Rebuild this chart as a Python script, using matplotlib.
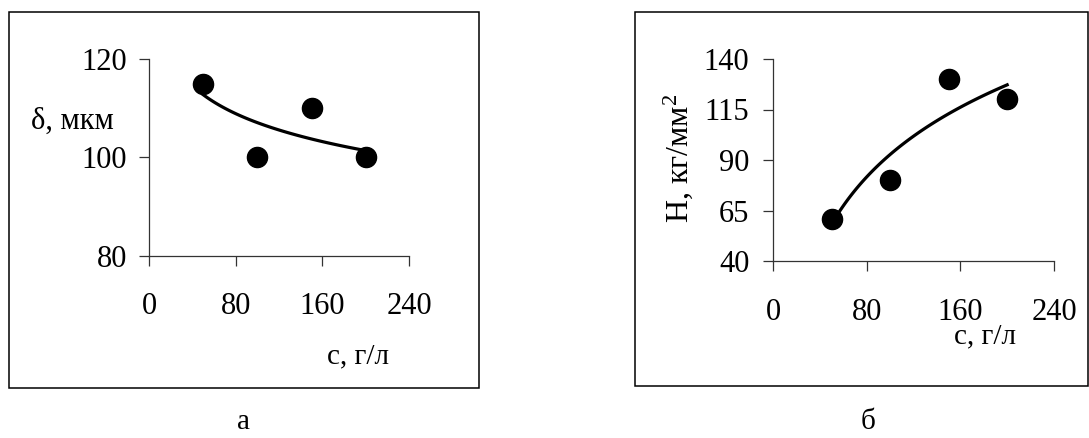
import numpy as np
import matplotlib
matplotlib.use("Agg")
import matplotlib.pyplot as plt
from matplotlib.patches import Rectangle

# ---- data ----
conc = [50, 100, 150, 200]            # c, g/l
thickness = [115, 100, 110, 100]      # delta, mkm
hardness = [61, 80, 130, 120]         # H, kg/mm^2

x_ticks = [0, 80, 160, 240]
y_ticks_a = [80, 100, 120]
y_ticks_b = [40, 65, 90, 115, 140]

plt.rcParams['font.family'] = ['Liberation Serif', 'DejaVu Serif']
plt.rcParams['mathtext.fontset'] = 'custom'
plt.rcParams['mathtext.rm'] = 'Liberation Serif'
plt.rcParams['mathtext.it'] = 'Liberation Serif'

W, H = 1089, 438
fig = plt.figure(figsize=(W / 100, H / 100), dpi=100)


def px(x0, y0, x1, y1):
    """pixel box (top-left origin) -> figure fraction rect"""
    return [x0 / W, 1 - y1 / H, (x1 - x0) / W, (y1 - y0) / H]


# frames
for (x0, y0, x1, y1) in [(9, 12, 479, 388), (635, 12, 1088, 386)]:
    fig.patches.append(Rectangle((x0 / W, 1 - y1 / H), (x1 - x0) / W, (y1 - y0) / H,
                                 transform=fig.transFigure, fill=False,
                                 edgecolor='black', linewidth=1.1))


def style(ax, yticks, ylim, xpad, ypad):
    ax.set_xlim(0, 240)
    ax.set_ylim(*ylim)
    ax.set_xticks(x_ticks)
    ax.set_yticks(yticks)
    for s in ['top', 'right']:
        ax.spines[s].set_visible(False)
    for s in ['left', 'bottom']:
        ax.spines[s].set_color('#333333')
        ax.spines[s].set_linewidth(0.9)
    ax.tick_params(axis='both', direction='out', length=7, width=0.9,
                   color='#333333', labelsize=22)
    ax.tick_params(axis='x', pad=xpad)
    ax.tick_params(axis='y', pad=ypad)
    ax.patch.set_alpha(0)


def trend(ax, x, y):
    coef = np.polyfit(np.log(x), y, 1)
    xs = np.linspace(min(x), max(x), 100)
    ax.plot(xs, np.polyval(coef, np.log(xs)), color='black', lw=2.3, zorder=2)
    ax.plot(x, y, 'o', color='black', ms=14.5, zorder=3, clip_on=False)


# panel a
ax1 = fig.add_axes(px(149, 59, 409, 256))
style(ax1, y_ticks_a, (80, 120), xpad=19, ypad=9)
trend(ax1, conc, thickness)
fig.text(31 / W, 1 - 121 / H, 'δ, мкм', fontsize=22, ha='left', va='center')
fig.text(358 / W, 1 - 356 / H, 'с, г/л', fontsize=21, ha='center', va='center')
fig.text(244 / W, 1 - 422 / H, 'а', fontsize=21, ha='center', va='center')

# panel b
ax2 = fig.add_axes(px(773, 59, 1054, 261))
style(ax2, y_ticks_b, (40, 140), xpad=20, ypad=10)
trend(ax2, conc, hardness)
fig.text(678 / W, 1 - 158 / H, 'Н, кг/мм$^{2}$', fontsize=23, rotation=90,
         ha='center', va='center')
fig.text(985 / W, 1 - 336 / H, 'с, г/л', fontsize=21, ha='center', va='center')
fig.text(868 / W, 1 - 422 / H, 'б', fontsize=21, ha='center', va='center')

fig.savefig('out.png', dpi=100)
